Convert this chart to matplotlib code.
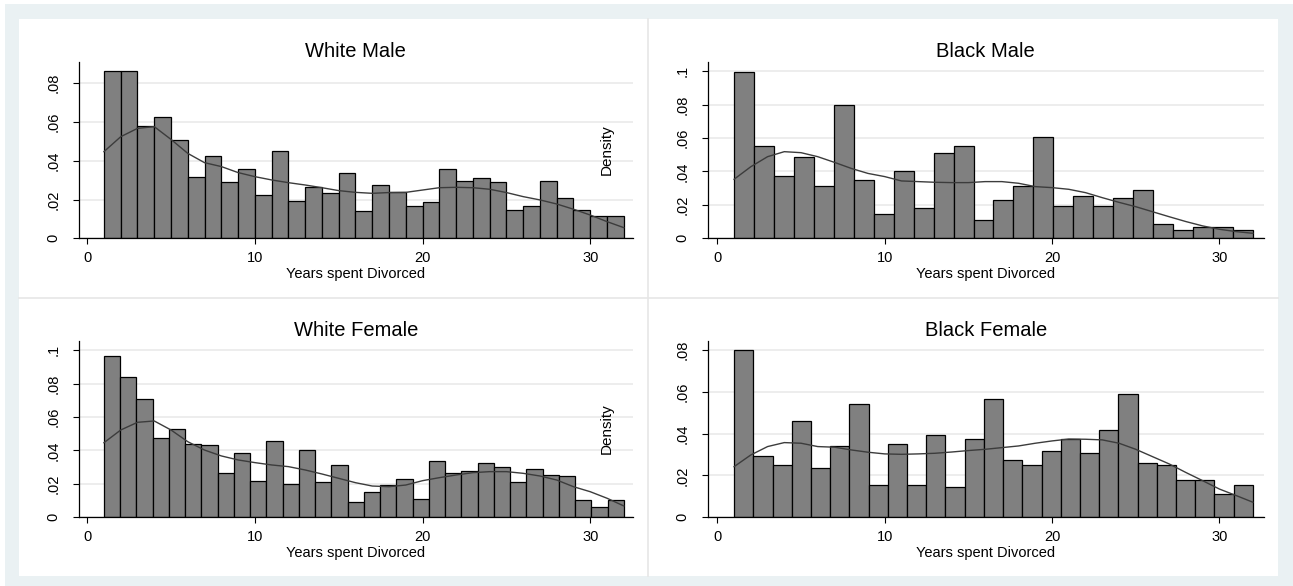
import numpy as np
import matplotlib.pyplot as plt
from matplotlib.patches import Rectangle

plt.rcParams['font.family'] = ['Liberation Sans', 'DejaVu Sans']

W, H = 1293, 586

titles = ["White Male", "Black Male", "White Female", "Black Female"]

# histogram heights (density); every group's bins run from year 1 to 32
wm_heights = [0.0865, 0.0865, 0.0580, 0.0624, 0.0507, 0.0318, 0.0423, 0.0291,
              0.0358, 0.0225, 0.0451, 0.0193, 0.0267, 0.0236, 0.0335, 0.0141,
              0.0275, 0.0241, 0.0165, 0.0186, 0.0358, 0.0298, 0.0310, 0.0291,
              0.0148, 0.0169, 0.0298, 0.0210, 0.0148, 0.0115, 0.0115]
bm_heights = [0.0992, 0.0554, 0.0373, 0.0484, 0.0313, 0.0797, 0.0349, 0.0143,
              0.0400, 0.0181, 0.0508, 0.0554, 0.0108, 0.0229, 0.0313, 0.0606,
              0.0191, 0.0251, 0.0191, 0.0241, 0.0289, 0.0084, 0.0048, 0.0068,
              0.0068, 0.0048]
wf_heights = [0.0964, 0.0839, 0.0705, 0.0472, 0.0526, 0.0438, 0.0430, 0.0263,
              0.0382, 0.0219, 0.0456, 0.0201, 0.0404, 0.0211, 0.0315, 0.0090,
              0.0151, 0.0191, 0.0229, 0.0108, 0.0337, 0.0267, 0.0279, 0.0323,
              0.0299, 0.0211, 0.0289, 0.0253, 0.0247, 0.0102, 0.0060, 0.0102]
bf_heights = [0.0800, 0.0295, 0.0250, 0.0462, 0.0234, 0.0339, 0.0543, 0.0156,
              0.0351, 0.0156, 0.0394, 0.0145, 0.0373, 0.0567, 0.0273, 0.0250,
              0.0317, 0.0373, 0.0306, 0.0416, 0.0588, 0.0261, 0.0250, 0.0178,
              0.0178, 0.0112, 0.0156]

# kernel density estimate, evaluated at each year 1..32
kde_years = list(range(1, 33))
wm_kde = [0.0447, 0.0524, 0.0567, 0.0576, 0.0510, 0.0438, 0.0390, 0.0370,
          0.0339, 0.0318, 0.0301, 0.0287, 0.0275, 0.0261, 0.0246, 0.0237,
          0.0232, 0.0236, 0.0237, 0.0249, 0.0261, 0.0263, 0.0261, 0.0253,
          0.0236, 0.0215, 0.0198, 0.0177, 0.0150, 0.0120, 0.0086, 0.0055]
bm_kde = [0.0353, 0.0428, 0.0488, 0.0518, 0.0512, 0.0488, 0.0454, 0.0418,
          0.0388, 0.0369, 0.0343, 0.0339, 0.0335, 0.0333, 0.0333, 0.0339,
          0.0339, 0.0329, 0.0309, 0.0303, 0.0293, 0.0273, 0.0243, 0.0215,
          0.0189, 0.0159, 0.0129, 0.0100, 0.0074, 0.0054, 0.0040, 0.0030]
wf_kde = [0.0446, 0.0522, 0.0568, 0.0576, 0.0522, 0.0452, 0.0402, 0.0367,
          0.0343, 0.0327, 0.0313, 0.0303, 0.0283, 0.0259, 0.0233, 0.0207,
          0.0187, 0.0183, 0.0193, 0.0219, 0.0237, 0.0253, 0.0267, 0.0273,
          0.0273, 0.0263, 0.0247, 0.0223, 0.0183, 0.0153, 0.0114, 0.0068]
bf_kde = [0.0242, 0.0298, 0.0338, 0.0357, 0.0354, 0.0338, 0.0335, 0.0322,
          0.0311, 0.0303, 0.0301, 0.0303, 0.0306, 0.0312, 0.0319, 0.0325,
          0.0333, 0.0341, 0.0354, 0.0365, 0.0374, 0.0373, 0.0370, 0.0354,
          0.0325, 0.0290, 0.0255, 0.0214, 0.0175, 0.0135, 0.0104, 0.0072]

yticks = [[0, .02, .04, .06, .08],
          [0, .02, .04, .06, .08, .1],
          [0, .02, .04, .06, .08, .1],
          [0, .02, .04, .06, .08]]
ytops = [0.0911, 0.1056, 0.1056, 0.0844]

heights = [wm_heights, bm_heights, wf_heights, bf_heights]
kdes = [wm_kde, bm_kde, wf_kde, bf_kde]

# panel rectangles in pixels: left, right, top, bottom
boxes = [(78.8, 633.0, 61.7, 238.3),
         (707.8, 1263.6, 61.7, 238.3),
         (78.8, 633.0, 340.7, 517.3),
         (707.8, 1263.6, 340.7, 517.3)]
xlims = [(-0.5, 32.55), (-0.57, 32.64), (-0.5, 32.55), (-0.57, 32.64)]

fig = plt.figure(figsize=(W / 100, H / 100), dpi=100, facecolor='white')

# graph region backdrop
bg = fig.add_axes([0, 0, 1, 1])
bg.set_xlim(0, W)
bg.set_ylim(H, 0)
bg.axis('off')
bg.add_patch(Rectangle((5, 4), W - 5, H - 4, color='#eaf1f3', lw=0))
bg.add_patch(Rectangle((19, 19), 1278 - 19, 576 - 19, color='white', lw=0))
bg.plot([648.3, 648.3], [19, 576], color='#e6e6e6', lw=1.2)
bg.plot([19, 1278], [298.3, 298.3], color='#e6e6e6', lw=1.2)


def ylab(v):
    s = f"{v:g}"
    return s[1:] if s.startswith('0.') else s


for i in range(4):
    l, r, t, b = boxes[i]
    ax = fig.add_axes([l / W, 1 - b / H, (r - l) / W, (b - t) / H])
    ax.set_facecolor('none')
    n = len(heights[i])
    edges = np.linspace(1, 32, n + 1)
    ax.bar(edges[:-1], heights[i], width=np.diff(edges), align='edge',
           color='#808080', edgecolor='#000000', linewidth=0.9, zorder=2)
    ax.plot(kde_years, kdes[i], color='#3c3c3c', lw=1.0, zorder=3)

    ax.set_xlim(*xlims[i])
    ax.set_ylim(0, ytops[i])
    ax.set_xticks([0, 10, 20, 30])
    ax.set_yticks(yticks[i])
    ax.set_yticklabels([ylab(v) for v in yticks[i]], rotation=90,
                       va='center', fontsize=10.5)
    ax.tick_params(axis='x', direction='out', length=4.3, width=0.8,
                   pad=5, labelsize=10.5)
    ax.tick_params(axis='y', direction='out', length=4.3, width=0.8,
                   pad=9)
    ax.grid(axis='y', color='#e8e8e8', lw=1.1, zorder=0)
    for side in ['top', 'right']:
        ax.spines[side].set_visible(False)
    for side in ['left', 'bottom']:
        ax.spines[side].set_linewidth(0.9)
    ax.set_xlabel("Years spent Divorced", fontsize=10.5, labelpad=1)
    ax.set_title(titles[i], fontsize=14.5, pad=3.6)
    if i % 2 == 1:
        ax.text(-0.181, 0.5, "Density", transform=ax.transAxes, rotation=90,
                ha='center', va='center', fontsize=11)

fig.savefig('out.png', dpi=100, facecolor='white')
